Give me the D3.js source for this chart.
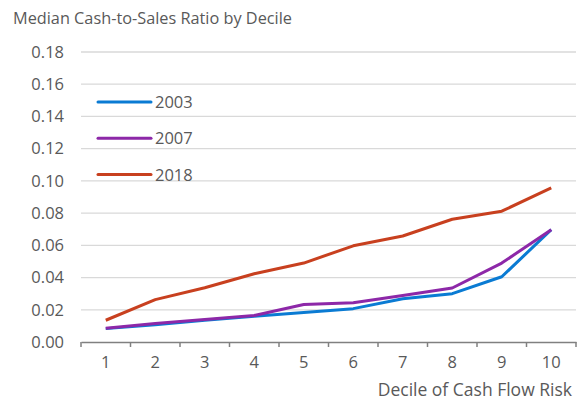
<!DOCTYPE html>
<html>
<head>
<meta charset="utf-8">
<script src="https://cdn.jsdelivr.net/npm/d3@7"></script>
<style>
  body { margin: 0; background: #fff; }
  #chart { width: 582px; height: 401px; }
  text { font-family: "Open Sans", sans-serif; fill: #595959; }
</style>
</head>
<body>
<div id="chart"></div>
<script>
const deciles = ["1", "2", "3", "4", "5", "6", "7", "8", "9", "10"];
const years = ["2003", "2007", "2018"];
const values2003 = [0.0083, 0.0107, 0.0135, 0.0160, 0.0183, 0.0207, 0.0268, 0.0300, 0.0405, 0.0697];
const values2007 = [0.0085, 0.0115, 0.0140, 0.0165, 0.0233, 0.0244, 0.0288, 0.0335, 0.0490, 0.0697];
const values2018 = [0.0135, 0.0263, 0.0337, 0.0424, 0.0490, 0.0597, 0.0658, 0.0762, 0.0812, 0.0957];
const yTicks = [0, 0.02, 0.04, 0.06, 0.08, 0.10, 0.12, 0.14, 0.16, 0.18];
const colors = ["#0a7bd3", "#8d28a8", "#c8401f"];

const series = [values2003, values2007, values2018].map((v, i) => ({year: years[i], values: v, color: colors[i]}));

const W = 582, H = 401;
const margin = {top: 52, right: 6, bottom: 59, left: 81};
const width = W - margin.left - margin.right;
const height = H - margin.top - margin.bottom;

const svg = d3.select("#chart").append("svg")
    .attr("width", W)
    .attr("height", H)
    .attr("viewBox", `0 0 ${W} ${H}`);

svg.append("text")
    .attr("x", 13)
    .attr("y", 24)
    .style("font-size", "16.3px")
    .text("Median Cash-to-Sales Ratio by Decile");

const g = svg.append("g")
    .attr("transform", `translate(${margin.left}, ${margin.top})`);

const x = d3.scaleBand().domain(deciles).range([0, width]);
const y = d3.scaleLinear().domain([0, 0.18]).range([height, 0]);

// gridlines
g.append("g")
    .selectAll("line")
    .data(yTicks.filter(d => d > 0))
    .enter()
    .append("line")
    .attr("x1", 0)
    .attr("x2", width)
    .attr("y1", d => y(d))
    .attr("y2", d => y(d))
    .attr("stroke", "#d9d9d9")
    .attr("stroke-width", 1.3);

// y labels
const yAxis = g.append("g")
    .call(d3.axisLeft(y).tickValues(yTicks).tickFormat(d3.format(".2f")).tickSize(0).tickPadding(17));
yAxis.select(".domain").remove();
yAxis.selectAll("text").style("font-size", "16.5px").attr("fill", "#595959");

// x axis
const xAxis = g.append("g")
    .attr("transform", `translate(0, ${height})`)
    .call(d3.axisBottom(x).tickSize(0).tickPadding(14));
xAxis.select(".domain").attr("stroke", "#808080").attr("stroke-width", 1.5);
xAxis.selectAll("text").style("font-size", "16.5px").attr("fill", "#595959");

const edges = deciles.map(d => x(d)).concat([width]);
xAxis.selectAll(".edge")
    .data(edges)
    .enter()
    .append("line")
    .attr("class", "edge")
    .attr("x1", d => d)
    .attr("x2", d => d)
    .attr("y1", 0)
    .attr("y2", 5)
    .attr("stroke", "#808080")
    .attr("stroke-width", 1.5);

svg.append("text")
    .attr("x", 572)
    .attr("y", 396)
    .attr("text-anchor", "end")
    .style("font-size", "17.5px")
    .text("Decile of Cash Flow Risk");

// lines
const line = d3.line()
    .x((d, i) => x(deciles[i]) + x.bandwidth() / 2)
    .y(d => y(d));

g.selectAll(".series")
    .data(series)
    .enter()
    .append("path")
    .attr("class", "series")
    .attr("d", d => line(d.values))
    .attr("fill", "none")
    .attr("stroke", d => d.color)
    .attr("stroke-width", 3)
    .attr("stroke-linejoin", "round");

// legend
const legend = svg.append("g");
series.forEach((s, i) => {
    const ly = 102 + i * 36.3;
    legend.append("line")
        .attr("x1", 98)
        .attr("x2", 151)
        .attr("y1", ly)
        .attr("y2", ly)
        .attr("stroke", s.color)
        .attr("stroke-width", 3)
        .attr("stroke-linecap", "round");
    legend.append("text")
        .attr("x", 155)
        .attr("y", ly + 6)
        .style("font-size", "16.5px")
        .text(s.year);
});
</script>
</body>
</html>
